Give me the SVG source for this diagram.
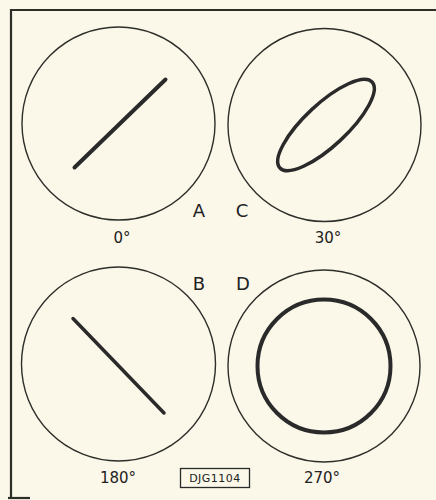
<svg xmlns="http://www.w3.org/2000/svg" width="436" height="500" viewBox="0 0 436 500">
<style>
.bg{fill:#fbf8e9}
.frame{fill:none;stroke:#2e2e28;stroke-width:2.2}
.scr{fill:none;stroke:#2e2e2a;stroke-width:1.4}
.trace{fill:none;stroke:#2a2a2a;stroke-width:4;stroke-linecap:round}
.lbl{font-family:"DejaVu Sans",sans-serif;font-size:18px;fill:#222;text-anchor:middle}
.deg{font-family:"DejaVu Sans",sans-serif;font-size:15px;fill:#222;text-anchor:middle}
.code{font-family:"DejaVu Sans",sans-serif;font-size:11px;fill:#222;text-anchor:middle;letter-spacing:0.5px}
</style>
<rect class="bg" x="0" y="0" width="436" height="500"/>
<path class="frame" d="M11,498 V10 H436"/>
<line class="frame" x1="8" y1="498" x2="30" y2="498"/>
<g id="A">
<circle class="scr" cx="118.5" cy="123.5" r="96.5"/>
<line class="trace" x1="74.5" y1="167.5" x2="165.5" y2="79.5"/>
<text class="lbl" x="199" y="217">A</text>
<text class="deg" x="122" y="243">0°</text>
</g>
<g id="C">
<circle class="scr" cx="324.5" cy="125" r="96.5"/>
<ellipse class="trace" cx="326" cy="125" rx="63" ry="21" transform="rotate(-43 326 125)" style="stroke-width:3.5"/>
<text class="lbl" x="242" y="217">C</text>
<text class="deg" x="328" y="243">30°</text>
</g>
<g id="B">
<circle class="scr" cx="118.5" cy="364" r="97"/>
<line class="trace" x1="73" y1="318.5" x2="164" y2="413" style="stroke-width:3.5"/>
<text class="lbl" x="199" y="290">B</text>
<text class="deg" x="118" y="483">180°</text>
</g>
<g id="D">
<circle class="scr" cx="324" cy="366" r="96"/>
<circle class="trace" cx="324" cy="366" r="66.5"/>
<text class="lbl" x="243" y="290">D</text>
<text class="deg" x="322" y="483">270°</text>
</g>
<g id="code">
<rect x="180.5" y="468.5" width="69" height="19" fill="none" stroke="#2a2a2a" stroke-width="1.3"/>
<text class="code" x="215" y="482">DJG1104</text>
</g>
</svg>
